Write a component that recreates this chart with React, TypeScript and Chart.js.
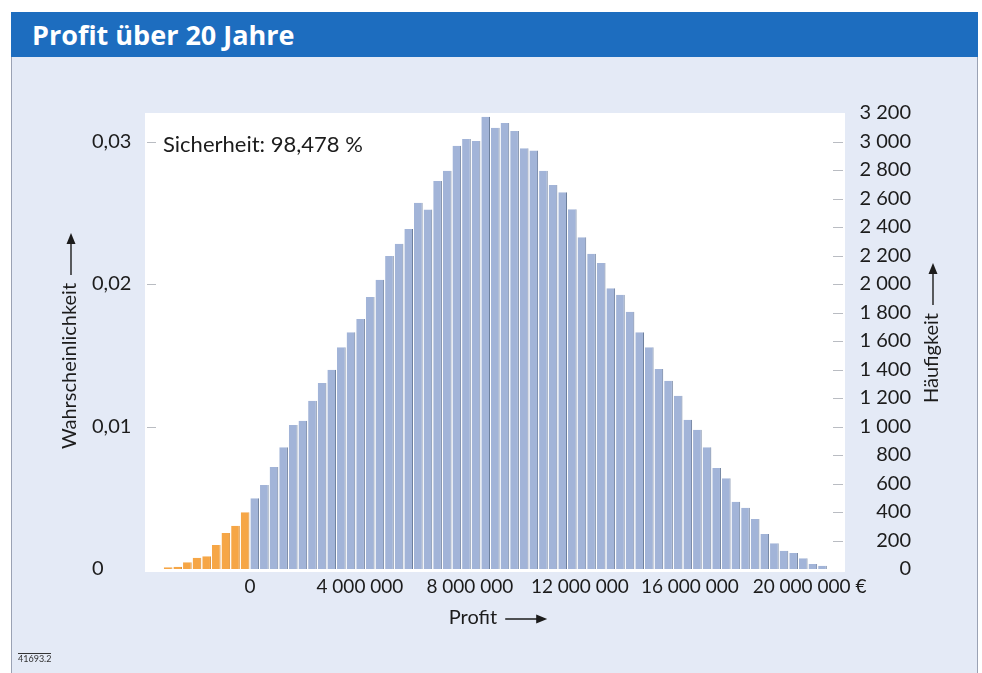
import React, { useEffect, useRef } from 'react';
import { Chart, registerables } from 'chart.js';

Chart.register(...registerables);

// Profit bins (bin centres, in thousand €), width 350 000 €
const PROFIT_BIN_CENTERS_K = [
  -2975, -2625, -2275, -1925, -1575, -1225, -875, -525, -175,
  175, 525, 875, 1225, 1575, 1925, 2275, 2625, 2975, 3325,
  3675, 4025, 4375, 4725, 5075, 5425, 5775, 6125, 6475, 6825,
  7175, 7525, 7875, 8225, 8575, 8925, 9275, 9625, 9975, 10325,
  10675, 11025, 11375, 11725, 12075, 12425, 12775, 13125, 13475, 13825,
  14175, 14525, 14875, 15225, 15575, 15925, 16275, 16625, 16975, 17325,
  17675, 18025, 18375, 18725, 19075, 19425, 19775, 20125, 20475, 20825,
];

// Häufigkeit (frequency) per bin
const FREQUENCIES = [
  12, 16, 47, 79, 89, 168, 253, 304, 398,
  496, 590, 716, 854, 1011, 1041, 1181, 1305, 1399, 1556,
  1661, 1755, 1909, 2030, 2197, 2283, 2386, 2571, 2522, 2723,
  2795, 2971, 3018, 3004, 3174, 3097, 3130, 3074, 2952, 2936,
  2795, 2695, 2644, 2524, 2328, 2213, 2148, 1970, 1925, 1806,
  1661, 1556, 1404, 1321, 1216, 1048, 978, 854, 709, 637,
  472, 430, 351, 246, 180, 128, 112, 75, 35, 23,
];

const TOTAL_RUNS = 100000;

const X_TICK_VALUES = [0, 4000000, 8000000, 12000000, 16000000, 20000000];
// leading spaces keep the number (not the € sign) centred on its tick
const X_TICK_LABELS = ['0', '4 000 000', '8 000 000', '12 000 000', '16 000 000', '    20 000 000 €'];

const PROB_TICK_VALUES = [0, 0.01, 0.02, 0.03];
const PROB_TICK_LABELS = ['0', '0,01', '0,02', '0,03'];

const COUNT_TICK_VALUES = [0, 200, 400, 600, 800, 1000, 1200, 1400, 1600, 1800, 2000, 2200, 2400, 2600, 2800, 3000, 3200];
const COUNT_TICK_LABELS = ['0', '200', '400', '600', '800', '1 000', '1 200', '1 400', '1 600', '1 800', '2 000', '2 200', '2 400', '2 600', '2 800', '3 000', '3 200'];

const TITLE = 'Profit über 20 Jahre';
const SAFETY_TEXT = 'Sicherheit: 98,478 %';
const X_TITLE = 'Profit';
const Y_LEFT_TITLE = 'Wahrscheinlichkeit';
const Y_RIGHT_TITLE = 'Häufigkeit';
const FIGURE_CODE = '41693.2';

const BLUE = '#a2b4d8';
const BLUE_EDGE = '#6c7e9c';
const ORANGE = '#f6a646';
const ORANGE_EDGE = '#d7892f';
const TEXT = '#1c1c1c';
const FONT_FAMILY = 'Lato, "Open Sans", sans-serif';

function drawArrowTitle(ctx: CanvasRenderingContext2D, text: string, cx: number, cy: number, rot: number) {
  ctx.save();
  ctx.translate(cx, cy);
  ctx.rotate(rot);
  ctx.font = `20px ${FONT_FAMILY}`;
  ctx.fillStyle = TEXT;
  ctx.strokeStyle = TEXT;
  ctx.textBaseline = 'middle';
  ctx.textAlign = 'left';
  const w = ctx.measureText(text).width;
  const gap = 8;
  const len = 42;
  const total = w + gap + len;
  const sx = -total / 2;
  ctx.fillText(text, sx, 0);
  const ax = sx + w + gap;
  const ex = sx + total;
  ctx.lineWidth = 1.4;
  ctx.beginPath();
  ctx.moveTo(ax, 1);
  ctx.lineTo(ex - 8, 1);
  ctx.stroke();
  ctx.beginPath();
  ctx.moveTo(ex, 1);
  ctx.lineTo(ex - 11, -3.5);
  ctx.lineTo(ex - 11, 5.5);
  ctx.closePath();
  ctx.fill();
  ctx.restore();
}

const decorPlugin = {
  id: 'decor',
  beforeDraw(chart: any) {
    const { ctx, chartArea: a } = chart;
    ctx.save();
    ctx.fillStyle = '#ffffff';
    ctx.fillRect(a.left, a.top, a.right - a.left, a.bottom - a.top + 3);
    ctx.restore();
  },
  afterDraw(chart: any) {
    const { ctx, chartArea: a, scales } = chart;
    ctx.save();
    ctx.strokeStyle = '#b9bcc2';
    ctx.lineWidth = 1;
    for (const v of PROB_TICK_VALUES) {
      if (v === 0) continue;
      const y = Math.round(scales.yProb.getPixelForValue(v)) + 0.5;
      ctx.beginPath();
      ctx.moveTo(a.left + 2, y);
      ctx.lineTo(a.left + 11, y);
      ctx.stroke();
    }
    for (const v of COUNT_TICK_VALUES) {
      if (v === 0 || v === 3200) continue;
      const y = Math.round(scales.yCount.getPixelForValue(v)) + 0.5;
      ctx.beginPath();
      ctx.moveTo(a.right - 12, y);
      ctx.lineTo(a.right - 2, y);
      ctx.stroke();
    }
    ctx.fillStyle = TEXT;
    ctx.font = `22px ${FONT_FAMILY}`;
    ctx.textBaseline = 'middle';
    ctx.textAlign = 'left';
    ctx.fillText(SAFETY_TEXT, a.left + 18, a.top + 32);
    ctx.restore();

    drawArrowTitle(ctx, Y_LEFT_TITLE, 70, (a.top + a.bottom) / 2, -Math.PI / 2);
    drawArrowTitle(ctx, Y_RIGHT_TITLE, 932, (a.top + a.bottom) / 2 - 8, -Math.PI / 2);
    drawArrowTitle(ctx, X_TITLE, (a.left + a.right) / 2 + 3, 618, 0);
  },
};

export default function App() {
  const canvasRef = useRef<HTMLCanvasElement | null>(null);

  useEffect(() => {
    const canvas = canvasRef.current;
    if (!canvas) return;
    const tickFont = { family: FONT_FAMILY, size: 20 };
    const chart = new Chart(canvas, {
      type: 'bar',
      data: {
        datasets: [
          {
            data: FREQUENCIES.map((y, i) => ({ x: PROFIT_BIN_CENTERS_K[i] * 1000, y })),
            backgroundColor: PROFIT_BIN_CENTERS_K.map((c) => (c < 0 ? ORANGE : BLUE)),
            borderColor: PROFIT_BIN_CENTERS_K.map((c) => (c < 0 ? ORANGE_EDGE : BLUE_EDGE)),
            borderWidth: { left: 0, right: 1, top: 0, bottom: 0 },
            borderSkipped: 'start',
            barPercentage: 0.9,
            categoryPercentage: 1,
            xAxisID: 'x',
            yAxisID: 'yCount',
          },
        ],
      },
      options: {
        responsive: false,
        animation: false,
        events: [],
        layout: { padding: { left: 92, right: 71, top: 113, bottom: 43 } },
        plugins: { legend: { display: false }, tooltip: { enabled: false }, title: { display: false } },
        scales: {
          x: {
            type: 'linear',
            min: -3816000,
            max: 21644000,
            offset: false,
            grid: { display: false, drawTicks: false },
            border: { display: false },
            afterBuildTicks: (s: any) => {
              s.ticks = X_TICK_VALUES.map((v) => ({ value: v }));
            },
            afterFit: (s: any) => {
              s.height = 61;
            },
            ticks: {
              autoSkip: false,
              maxRotation: 0,
              padding: 6,
              color: TEXT,
              font: { family: FONT_FAMILY, size: 19 },
              callback: (v: any) => X_TICK_LABELS[X_TICK_VALUES.indexOf(Number(v))],
            },
          },
          yCount: {
            type: 'linear',
            position: 'right',
            min: 0,
            max: 3200,
            grid: { display: false, drawTicks: false },
            border: { display: false },
            afterBuildTicks: (s: any) => {
              s.ticks = COUNT_TICK_VALUES.map((v) => ({ value: v }));
            },
            afterFit: (s: any) => {
              s.width = 66;
            },
            ticks: {
              autoSkip: false,
              crossAlign: 'far',
              padding: 0,
              color: TEXT,
              font: tickFont,
              callback: (v: any) => COUNT_TICK_LABELS[COUNT_TICK_VALUES.indexOf(Number(v))],
            },
          },
          yProb: {
            type: 'linear',
            position: 'left',
            min: 0,
            max: 3200 / TOTAL_RUNS,
            grid: { display: false, drawTicks: false },
            border: { display: false },
            afterBuildTicks: (s: any) => {
              s.ticks = PROB_TICK_VALUES.map((v) => ({ value: v }));
            },
            afterFit: (s: any) => {
              s.width = 53;
            },
            ticks: {
              autoSkip: false,
              crossAlign: 'far',
              padding: 0,
              color: TEXT,
              font: tickFont,
              callback: (v: any) => {
                const idx = PROB_TICK_VALUES.findIndex((p) => Math.abs(p - Number(v)) < 1e-9);
                return idx >= 0 ? PROB_TICK_LABELS[idx] : '';
              },
            },
          },
        },
      } as any,
      plugins: [decorPlugin],
    });
    return () => chart.destroy();
  }, []);

  return (
    <div
      style={{
        position: 'fixed',
        left: 0,
        top: 0,
        width: 982,
        height: 673,
        background: '#ffffff',
        overflow: 'hidden',
        fontFamily: FONT_FAMILY,
      }}
    >
      <div
        style={{
          position: 'absolute',
          left: 11,
          top: 12,
          width: 965,
          height: 700,
          background: '#e4eaf6',
          borderLeft: '1px solid #9aa2b4',
          borderRight: '1px solid #9aa2b4',
        }}
      />
      <div
        style={{
          position: 'absolute',
          left: 11,
          top: 12,
          width: 967,
          height: 45,
          background: '#1d6dbf',
        }}
      >
        <span
          style={{
            position: 'absolute',
            left: 21,
            top: 0,
            lineHeight: '45px',
            color: '#ffffff',
            fontWeight: 700,
            fontSize: 27,
            fontFamily: '"Open Sans", Lato, sans-serif',
            whiteSpace: 'nowrap',
          }}
        >
          {TITLE}
        </span>
      </div>
      <canvas
        ref={canvasRef}
        width={982}
        height={673}
        style={{ position: 'absolute', left: 0, top: 0, width: 982, height: 673 }}
      />
      <div
        style={{
          position: 'absolute',
          left: 18,
          top: 653,
          fontSize: 9,
          lineHeight: '10px',
          color: '#333',
          borderTop: '1px solid #333',
        }}
      >
        {FIGURE_CODE}
      </div>
    </div>
  );
}
